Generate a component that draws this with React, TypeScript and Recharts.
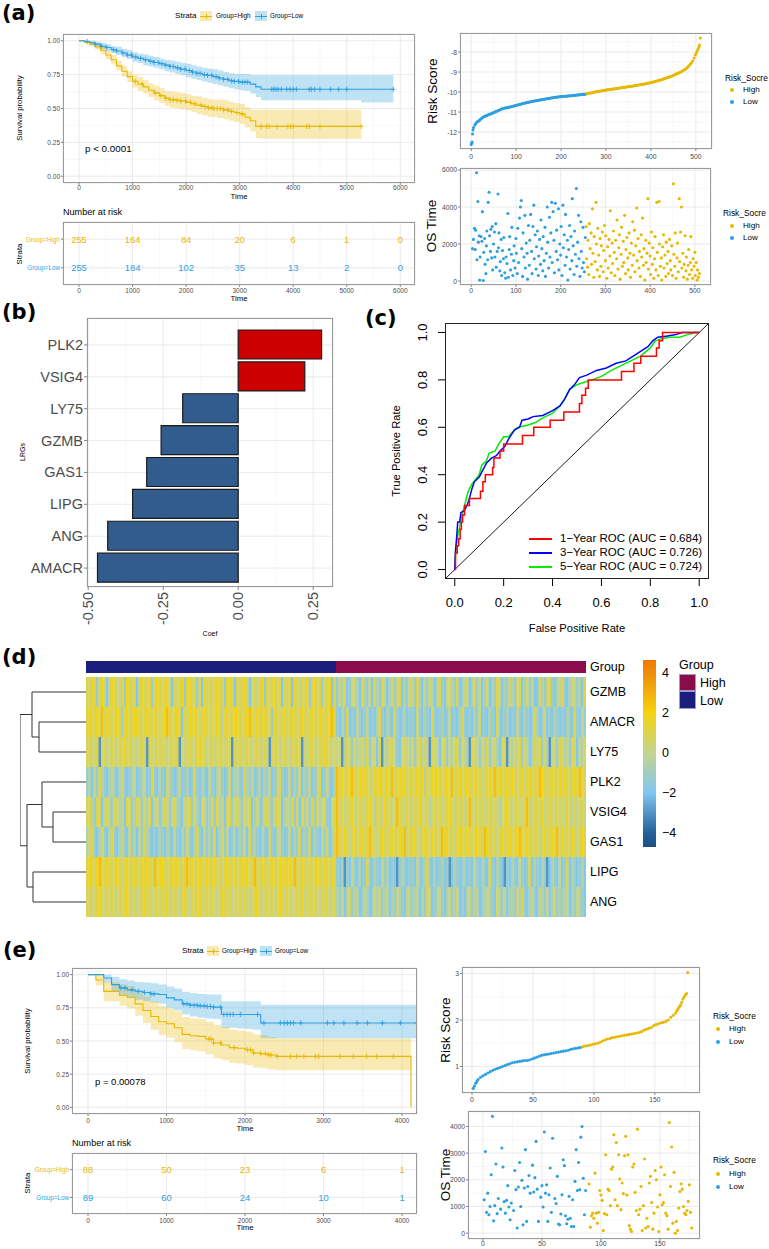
import React from "react"
import {
  ComposedChart, ScatterChart, LineChart, BarChart,
  Line, Area, Scatter, Bar, Cell, XAxis, YAxis, CartesianGrid, ReferenceLine,
} from "recharts"

const FONT = '"Liberation Sans", Arial, Helvetica, sans-serif'
const YEL = "#E7B800"
const BLU = "#2E9FDF"
const GREY = "#4d4d4d"

// ---------- (a) survival, training cohort ----------
const kmTimesA = [0, 100, 200, 300, 400, 500, 600, 700, 800, 900, 1000, 1100, 1200, 1300, 1400, 1500, 1600, 1700, 1800, 1900, 2000, 2100, 2200, 2300, 2400, 2500, 2600, 2700, 2800, 2900, 3000, 3100, 3200, 3300, 3400, 5270, 5870]
const kmHighA = [1, .99, .975, .955, .93, .895, .86, .815, .775, .735, .70, .68, .66, .635, .615, .595, .575, .565, .56, .555, .545, .535, .525, .515, .505, .50, .50, .49, .48, .47, .46, .435, .41, .368, .368, .368, null]
const kmHighLoA = [1, .98, .96, .935, .905, .865, .825, .78, .735, .695, .655, .63, .61, .585, .56, .54, .52, .505, .50, .495, .485, .475, .46, .45, .44, .435, .43, .42, .41, .40, .385, .36, .33, .28, .277, .277, null]
const kmHighHiA = [1, 1, .99, .975, .955, .925, .895, .85, .815, .775, .745, .73, .71, .685, .67, .65, .63, .625, .62, .615, .605, .595, .59, .58, .57, .565, .565, .56, .55, .54, .535, .51, .49, .49, .49, .49, null]
const kmLowA = [1, .995, .985, .975, .96, .95, .935, .925, .91, .895, .88, .87, .86, .85, .84, .83, .82, .81, .80, .79, .78, .77, .76, .75, .745, .735, .725, .715, .705, .70, .695, .695, .68, .66, .642, .642, .642]
const kmLowLoA = [1, .985, .97, .955, .94, .925, .91, .895, .88, .865, .845, .835, .82, .81, .80, .79, .775, .765, .755, .745, .73, .72, .71, .70, .69, .68, .67, .66, .65, .64, .635, .63, .61, .585, .56, .545, .545]
const kmLowHiA = [1, 1, 1, .995, .985, .975, .96, .955, .94, .93, .915, .905, .90, .89, .88, .87, .86, .855, .845, .835, .83, .82, .81, .80, .795, .79, .78, .77, .76, .755, .755, .755, .745, .745, .745, .745, .745]
const censHighA = [1050, 1180, 1420, 1530, 1620, 1700, 1760, 1830, 1900, 1990, 2080, 2160, 2280, 2350, 2420, 2480, 2520, 2580, 2640, 2700, 2780, 2850, 2950, 3050, 3400, 3500, 3550, 3700, 3900, 3950, 4000, 4250, 4300, 4500, 5270]
const censLowA = [150, 300, 420, 520, 640, 700, 820, 900, 980, 1060, 1150, 1240, 1330, 1400, 1480, 1550, 1620, 1700, 1760, 1840, 1900, 1980, 2060, 2120, 2200, 2260, 2340, 2400, 2480, 2560, 2620, 2700, 2780, 2850, 2900, 2980, 3050, 3100, 3150, 3600, 3640, 3680, 3720, 3780, 3880, 3940, 4000, 4060, 4300, 4340, 4400, 4500, 4700, 4850, 5000, 5870]
const timeTicksA = [0, 1000, 2000, 3000, 4000, 5000, 6000]
const atRiskHighA = [255, 164, 84, 20, 6, 1, 0]
const atRiskLowA = [255, 184, 102, 35, 13, 2, 0]

const nLowA = 255
const riskA = [[0, -12.62], [1, -12.55], [2, -12.5], [3, -12.1], [4, -11.9], [5, -11.78], [8, -11.65], [10, -11.58], [13, -11.5], [15, -11.47], [18, -11.42], [20, -11.38], [23, -11.32], [25, -11.28], [28, -11.24], [30, -11.22], [33, -11.19], [35, -11.17], [38, -11.14], [40, -11.12], [43, -11.1], [45, -11.08], [48, -11.05], [50, -11.03], [53, -11.0], [55, -10.98], [58, -10.95], [60, -10.93], [63, -10.9], [65, -10.88], [68, -10.85], [70, -10.83], [73, -10.81], [75, -10.8], [78, -10.79], [80, -10.78], [83, -10.77], [85, -10.76], [88, -10.74], [90, -10.73], [93, -10.71], [95, -10.7], [98, -10.68], [100, -10.67], [103, -10.65], [105, -10.64], [108, -10.62], [110, -10.61], [113, -10.59], [115, -10.58], [118, -10.56], [120, -10.55], [123, -10.53], [125, -10.52], [128, -10.51], [130, -10.5], [133, -10.48], [135, -10.47], [138, -10.46], [140, -10.45], [143, -10.44], [145, -10.43], [148, -10.42], [150, -10.41], [153, -10.4], [155, -10.39], [158, -10.38], [160, -10.37], [163, -10.36], [165, -10.35], [168, -10.34], [170, -10.33], [173, -10.32], [175, -10.31], [178, -10.3], [180, -10.29], [183, -10.28], [185, -10.27], [188, -10.265], [190, -10.26], [193, -10.25], [195, -10.24], [198, -10.235], [200, -10.23], [203, -10.225], [205, -10.22], [208, -10.215], [210, -10.21], [213, -10.205], [215, -10.2], [218, -10.195], [220, -10.19], [223, -10.185], [225, -10.18], [228, -10.175], [230, -10.17], [233, -10.16], [235, -10.15], [238, -10.145], [240, -10.14], [243, -10.135], [245, -10.13], [248, -10.125], [250, -10.12], [253, -10.11], [255, -10.1], [258, -10.08], [260, -10.07], [263, -10.06], [265, -10.05], [268, -10.04], [270, -10.03], [273, -10.01], [275, -10.0], [278, -9.99], [280, -9.98], [283, -9.97], [285, -9.96], [288, -9.95], [290, -9.94], [293, -9.93], [295, -9.92], [298, -9.91], [300, -9.9], [303, -9.89], [305, -9.88], [308, -9.875], [310, -9.87], [313, -9.86], [315, -9.85], [318, -9.845], [320, -9.84], [323, -9.83], [325, -9.82], [328, -9.81], [330, -9.8], [333, -9.79], [335, -9.78], [338, -9.775], [340, -9.77], [343, -9.76], [345, -9.75], [348, -9.74], [350, -9.73], [353, -9.725], [355, -9.72], [358, -9.71], [360, -9.7], [363, -9.69], [365, -9.68], [368, -9.67], [370, -9.66], [373, -9.65], [375, -9.64], [378, -9.63], [380, -9.62], [383, -9.61], [385, -9.6], [388, -9.585], [390, -9.57], [393, -9.56], [395, -9.55], [398, -9.54], [400, -9.53], [403, -9.51], [405, -9.5], [408, -9.48], [410, -9.47], [413, -9.45], [415, -9.44], [418, -9.42], [420, -9.41], [423, -9.39], [425, -9.37], [428, -9.35], [430, -9.33], [433, -9.31], [435, -9.29], [438, -9.27], [440, -9.25], [443, -9.23], [445, -9.21], [448, -9.19], [450, -9.17], [453, -9.14], [455, -9.12], [458, -9.09], [460, -9.07], [463, -9.04], [465, -9.01], [468, -8.98], [470, -8.95], [473, -8.91], [475, -8.88], [478, -8.84], [480, -8.8], [483, -8.73], [485, -8.68], [488, -8.6], [490, -8.55], [493, -8.45], [496, -8.3], [499, -8.15], [501, -8.05], [503, -7.95], [505, -7.85], [507, -7.75], [508, -7.65], [510, -7.3]]
const osA = [[3, 1750], [5, 2250], [7, 2850], [9, 1700], [10, 2750], [12, 5850], [13, 1150], [15, 4300], [16, 2100], [18, 2450], [19, 50], [20, 1300], [22, 2400], [24, 2150], [25, 3750], [27, 30], [28, 1550], [30, 2300], [31, 900], [33, 400], [34, 1900], [35, 2700], [37, 1150], [38, 4250], [40, 4800], [41, 2450], [43, 1600], [44, 2800], [46, 1250], [47, 2950], [48, 600], [50, 2000], [52, 2650], [53, 1300], [55, 3100], [56, 750], [58, 1600], [60, 4700], [61, 1800], [62, 2600], [64, 550], [65, 1050], [67, 2250], [68, 300], [70, 1650], [72, 1200], [73, 2350], [75, 450], [77, 150], [78, 1300], [80, 950], [82, 3650], [83, 200], [85, 1700], [86, 2400], [88, 600], [90, 1450], [91, 2900], [93, 300], [95, 1100], [96, 1900], [98, 700], [100, 2300], [101, 1500], [103, 400], [104, 2850], [106, 1000], [108, 3400], [110, 4000], [112, 4350], [113, 1750], [115, 250], [116, 2600], [118, 1300], [120, 3550], [121, 700], [123, 2050], [125, 1500], [126, 100], [128, 3000], [130, 850], [131, 2200], [133, 3600], [135, 1600], [136, 400], [138, 2950], [140, 4100], [141, 1200], [143, 2500], [145, 650], [146, 1850], [148, 2700], [150, 300], [151, 1350], [153, 2250], [155, 900], [156, 3300], [158, 1750], [160, 550], [161, 2400], [163, 1100], [165, 2900], [166, 250], [168, 1500], [170, 4000], [171, 2100], [173, 700], [175, 3450], [176, 1300], [178, 2600], [180, 4250], [181, 1000], [183, 3750], [185, 2200], [186, 450], [188, 4200], [190, 1600], [191, 2750], [193, 1150], [195, 3900], [196, 600], [198, 2000], [200, 1400], [201, 2950], [203, 300], [205, 4100], [206, 1800], [208, 2500], [210, 850], [211, 3600], [213, 1300], [215, 2200], [216, 50], [218, 1700], [220, 3000], [221, 650], [223, 2400], [225, 1100], [226, 4450], [228, 1900], [230, 350], [231, 2700], [233, 1450], [235, 5000], [236, 800], [238, 2100], [240, 3550], [241, 1200], [243, 250], [245, 3200], [246, 1600], [248, 700], [250, 2900], [251, 1000], [253, 500], [255, 2350],
  [257, 2950], [258, 1200], [260, 750], [261, 2200], [263, 350], [264, 3100], [266, 1750], [268, 2600], [269, 900], [271, 3900], [272, 1500], [274, 200], [275, 2400], [277, 1050], [279, 4250], [280, 2000], [282, 600], [283, 2850], [285, 1400], [287, 250], [288, 2300], [290, 800], [291, 1900], [293, 2650], [295, 500], [296, 1650], [298, 3000], [300, 1100], [301, 2450], [303, 150], [305, 1850], [306, 700], [308, 2250], [310, 1350], [311, 3800], [313, 450], [315, 2050], [316, 950], [318, 2700], [320, 1550], [321, 300], [323, 2200], [325, 1200], [326, 3300], [328, 650], [330, 1800], [331, 2500], [333, 100], [335, 1450], [336, 2900], [338, 800], [340, 2150], [341, 1000], [343, 3550], [345, 400], [346, 1700], [348, 2350], [350, 1250], [351, 600], [353, 2600], [355, 1500], [356, 200], [358, 2050], [360, 850], [361, 3200], [363, 1400], [365, 2750], [366, 500], [368, 1900], [370, 3950], [371, 1100], [373, 2300], [375, 700], [376, 1600], [378, 250], [380, 2500], [381, 1300], [383, 3400], [385, 850], [386, 1750], [388, 50], [390, 2200], [391, 1000], [393, 1500], [395, 4450], [396, 650], [398, 2050], [400, 1350], [401, 350], [403, 2650], [405, 900], [406, 1800], [408, 150], [410, 1200], [411, 2400], [413, 600], [415, 4250], [416, 1550], [418, 300], [420, 4300], [421, 2000], [423, 800], [425, 1250], [426, 50], [428, 1850], [430, 2500], [431, 700], [433, 1400], [435, 250], [436, 2100], [438, 950], [440, 1600], [441, 400], [443, 2250], [445, 1100], [446, 600], [448, 1900], [450, 300], [452, 5250], [453, 1450], [455, 800], [456, 2600], [458, 150], [460, 1250], [461, 2050], [463, 500], [465, 4450], [466, 1050], [468, 2650], [470, 4000], [471, 700], [473, 1500], [475, 200], [476, 900], [478, 2450], [480, 550], [481, 1300], [483, 100], [485, 850], [486, 1700], [488, 350], [490, 1000], [491, 2400], [493, 600], [495, 150], [496, 1200], [498, 800], [500, 1550], [501, 300], [503, 1000], [505, 50], [506, 600], [508, 200], [510, 400]]

// ---------- (b) lasso coefficients ----------
const coefGenes = ["PLK2", "VSIG4", "LY75", "GZMB", "GAS1", "LIPG", "ANG", "AMACR"]
const coefValues = [0.278, 0.222, -0.185, -0.257, -0.305, -0.352, -0.435, -0.469]

// ---------- (c) time-dependent ROC ----------
const roc1 = [[0, 0], [0.003, 0.07], [0.01, 0.1], [0.016, 0.13], [0.022, 0.17], [0.027, 0.2], [0.032, 0.23], [0.04, 0.27], [0.06, 0.3], [0.105, 0.33], [0.115, 0.37], [0.125, 0.4], [0.155, 0.43], [0.16, 0.47], [0.185, 0.5], [0.2, 0.53], [0.277, 0.565], [0.323, 0.6], [0.39, 0.63], [0.446, 0.665], [0.51, 0.7], [0.52, 0.735], [0.535, 0.765], [0.546, 0.8], [0.682, 0.835], [0.733, 0.87], [0.761, 0.9], [0.825, 0.935], [0.836, 0.965], [0.85, 1.0], [1.0, 1.0]]
const roc3 = [[0, 0], [0.003, 0.08], [0.008, 0.14], [0.012, 0.2], [0.02, 0.2], [0.025, 0.24], [0.04, 0.25], [0.05, 0.27], [0.06, 0.3], [0.07, 0.34], [0.08, 0.37], [0.1, 0.39], [0.115, 0.42], [0.13, 0.45], [0.15, 0.47], [0.17, 0.48], [0.185, 0.5], [0.205, 0.52], [0.22, 0.55], [0.245, 0.59], [0.265, 0.6], [0.275, 0.63], [0.3, 0.635], [0.32, 0.645], [0.36, 0.65], [0.4, 0.67], [0.43, 0.69], [0.45, 0.72], [0.47, 0.76], [0.49, 0.78], [0.51, 0.81], [0.54, 0.82], [0.58, 0.84], [0.62, 0.85], [0.66, 0.87], [0.7, 0.88], [0.73, 0.9], [0.76, 0.92], [0.79, 0.94], [0.81, 0.965], [0.83, 0.98], [0.87, 0.985], [0.9, 0.99], [0.93, 1.0], [1, 1]]
const roc5 = [[0, 0], [0.003, 0.07], [0.01, 0.13], [0.02, 0.18], [0.03, 0.23], [0.045, 0.29], [0.055, 0.33], [0.07, 0.36], [0.085, 0.38], [0.1, 0.4], [0.11, 0.44], [0.13, 0.46], [0.14, 0.49], [0.165, 0.5], [0.18, 0.53], [0.2, 0.56], [0.22, 0.56], [0.235, 0.58], [0.26, 0.6], [0.3, 0.61], [0.33, 0.62], [0.36, 0.64], [0.4, 0.66], [0.43, 0.69], [0.45, 0.72], [0.47, 0.76], [0.5, 0.78], [0.53, 0.79], [0.56, 0.8], [0.6, 0.815], [0.64, 0.84], [0.68, 0.86], [0.72, 0.88], [0.76, 0.9], [0.8, 0.935], [0.82, 0.965], [0.85, 0.975], [0.88, 0.98], [0.92, 0.98], [0.95, 0.99], [0.98, 1.0], [1, 1]]
const rocLabels = ["1\u2212Year ROC (AUC = 0.684)", "3\u2212Year ROC (AUC = 0.726)", "5\u2212Year ROC (AUC = 0.724)"]

// ---------- (d) heatmap ----------
const heatGenes = ["GZMB", "AMACR", "LY75", "PLK2", "VSIG4", "GAS1", "LIPG", "ANG"]
const groupLow = 255
const groupHigh = 255
// one letter per column block (B = -3 ... J = 2.6); first 100 Low, last 100 High
const heatRows = [
  "HGIHDHIGCH IHGFHDIHGH CHIGHHDGIH GHIFCHGHID HIGHDHCIGH FHIHGDHIGC HGHIHCGHFH IDHGHIGHCH GHCIHFHGID HIGHDGHICH DFEHCDGFEC HEDFCGEDHF CEGDFHCEDG FDHECFDGEC EHDCFGEDHC DFGCEHDFCE GCEDHFCEDG EDFHCEGDFC CGEDFHDCEF HDCEGFDECH",
  "HIGHIHJGIH GHIHDHIGHI IHGHIHGIHG HIJHGHIHCH GIHIHGHIHG HGIHEHIGHI IHGHIJHGIH HIHGDIHGHI GHIHGHIHGH IHGIHGHIJH DCEDHCDCFD CDFCDCEHDC EDCHDCDECD DCGDCEDCHD CDECDFCDCE HDCDCEDGCD CEDCHDCDEC DCFDCEDCDH ECDGCDCEDC DCEDCHDCFD",
  "GHFGHBGHFG HGFHGIGHFG FGHGBHGFHG HGFGHGHBGF GHGFHIGHFG HFGHGFHGBH GHFGHGFGHG FHGBHGHFGH GFHGHGBGFH HGFHGIHGFG FGBEHFDGEF GEHDFGCHBF EHGFDCGHFE GDFHEGFBHG FCGHDFEGHD GFEBHGFDGE HDFGECHGBF EGFHDGFCEH FHDGEBFGDH GEFDHGCFEG",
  "DECFDHEDCE FDCEGDCDEF CDEFCDHDCE DCGEDCDFCD ECDHDCEDCF DCEFDCDGCE EDCHEDFCDE CEDFCDEHDC DFCEDGCEDF CDEHCDFDCE JHIGHIJHGI HIHGFIHIHG IHJGHIHIGH HGIHIEHGIH IHGHIHJGHI GHIHGIHHFG HIGJHIHGIH IHGHIFHIGH HJIHGHIHGI GIHGHIHJHG",
  "GHEDHGCFHE DHGEFCHGDE HFDGEHCFGD EHGDFHEDCG FHDGECHFDE GDHEFCGHDF HEDGFHCEGD DGHEDFHGCE FEHDGCHEFD HDGEFHDCGH JGHFGHIFGH GFHIGEHGFI HGFGJHGFHG FHGIFGHEGH GHFGHIGFHG HFGJGFHGHF GHFHGEGHIG FGHGFHJGFH HGIFGHGFHG GFHGEHFGHF",
  "EGHDCEGDCF HDCEFDCGDE CFDHEDCDCE DCEDCFDCED GDCEHDCFDE DHCEGDFCDE CEDFCHDEDC EDCGDCEFDC DFCEDHCEDG CEDCFDGCEH JHGIHFHIGH IGHJHGFHIH GHIHGIHJGH HIGFHIHGIH GHJHIGHFHI HGIHGHIHGJ IHGHFHIGHI GHIJHGIHGH HFHIGHIHJG IGHGIHFHIH",
  "HIHGIJHGIH GHIHFHIGHI HGIHIHGJHI IHGHIHIGHH JHIGHIHGIH HIGHFHIHGI GHIHIGHJHG IHGHIHGIHI HIGJHGIHGH GHIHGIHGIH DCEBDCFDCE CDHDCEDCFD ECDCBDEDCD DCFDCEHDCE CDECDBCEDC DECDCFDCED CHDCEDCBDC EDCFDCDHCE DCEDBCEDCF CDHCEDCDEC",
  "GHFGHIGFHG HGFHGHIGFH FGHIGHFGHG HGIFGHGFHI GFHGHIFGHG HGFGIHGHFG GHFHGFGHIG FGHGHFGIHF HGFGHGIFGH GHGFHGHFGH EDFCEGDEFC DFECDGEFDE FCEDFEDCFE DEFCEDGFCD EFDCEFDEGC DCEFDEFCDE FEDCGEDFCE EDFEHDCEFD CFEDFCEGDE DEFCEDFEDC",
]
const LEVEL: Record<string, number> = { A: -4, B: -3, C: -1.9, D: -1.2, E: -0.5, F: 0.1, G: 0.6, H: 1.1, I: 1.8, J: 2.6, K: 4 }
// hclust merges (negative = gene row, positive = earlier merge)
const mergeA = [-2, -1, -5, -4, -7, 4, 2]
const mergeB = [-3, 1, -6, 3, -8, 5, 6]
const mergeH = [47, 54, 33, 44, 53, 59, 66]
const legendTicks = [4, 2, 0, -2, -4]

// ---------- (e) survival, validation cohort ----------
const kmTimesE = [0, 100, 200, 300, 400, 500, 600, 700, 800, 900, 1000, 1100, 1200, 1300, 1400, 1500, 1600, 1700, 1800, 1900, 2000, 2100, 2200, 2300, 2400, 4115, 4190]
const kmHighE = [1, .96, .874, .874, .845, .83, .78, .73, .685, .645, .63, .60, .55, .54, .535, .515, .485, .47, .45, .445, .435, .41, .405, .395, .384, 0, null]
const kmHighLoE = [1, .92, .80, .80, .765, .745, .69, .635, .585, .545, .525, .49, .44, .43, .42, .40, .37, .355, .335, .33, .32, .30, .295, .285, .28, .28, null]
const kmHighHiE = [1, 1, .945, .945, .925, .915, .875, .835, .80, .765, .75, .725, .68, .67, .665, .645, .62, .605, .585, .58, .57, .55, .545, .53, .518, .518, null]
const kmLowE = [1, 1, .975, .925, .90, .885, .875, .865, .855, .85, .825, .81, .78, .77, .765, .76, .755, .70, .70, .70, .70, .70, .636, .636, .636, .636, .636]
const kmLowLoE = [1, 1, .94, .875, .845, .825, .81, .80, .79, .78, .75, .73, .70, .685, .675, .67, .665, .60, .60, .595, .59, .585, .52, .52, .52, .52, .52]
const kmLowHiE = [1, 1, 1, .985, .965, .955, .945, .94, .935, .925, .91, .895, .87, .86, .855, .85, .85, .80, .80, .80, .80, .80, .774, .774, .774, .774, .774]
const censHighE = [1540, 1570, 1600, 1690, 1860, 2030, 2070, 2110, 2200, 2260, 2300, 2330, 2410, 2580, 2660, 2750, 2900, 2940, 3210, 3380, 3550, 3680, 3890]
const censLowE = [420, 470, 560, 640, 720, 800, 840, 1220, 1260, 1300, 1350, 1390, 1430, 1480, 1520, 1560, 1600, 1690, 1730, 1770, 1810, 1850, 1940, 2160, 2240, 2450, 2500, 2540, 2580, 2620, 2710, 3050, 3130, 3260, 3430, 3560, 3750, 3980, 4190]
const timeTicksE = [0, 1000, 2000, 3000, 4000]
const atRiskHighE = [88, 50, 23, 6, 1]
const atRiskLowE = [89, 60, 24, 10, 1]

const nLowE = 89
const riskE = [[1, 0.53], [2, 0.58], [3, 0.64], [4, 0.68], [5, 0.72], [7, 0.77], [9, 0.8], [11, 0.83], [13, 0.86], [15, 0.89], [17, 0.92], [19, 0.94], [21, 0.96], [23, 0.98], [25, 1.0], [27, 1.02], [29, 1.04], [31, 1.06], [33, 1.08], [35, 1.09], [37, 1.1], [39, 1.11], [41, 1.12], [43, 1.13], [45, 1.13], [47, 1.14], [49, 1.16], [51, 1.18], [53, 1.2], [55, 1.22], [57, 1.24], [59, 1.25], [61, 1.26], [63, 1.27], [65, 1.28], [67, 1.29], [69, 1.3], [71, 1.31], [73, 1.32], [75, 1.33], [77, 1.34], [79, 1.35], [81, 1.37], [83, 1.38], [85, 1.39], [87, 1.4], [89, 1.41],
  [91, 1.43], [93, 1.44], [95, 1.45], [97, 1.46], [99, 1.48], [101, 1.49], [103, 1.5], [105, 1.52], [107, 1.55], [109, 1.57], [111, 1.59], [113, 1.6], [115, 1.62], [117, 1.63], [119, 1.64], [121, 1.65], [123, 1.66], [125, 1.67], [127, 1.68], [129, 1.69], [131, 1.7], [133, 1.71], [135, 1.72], [137, 1.73], [139, 1.75], [141, 1.78], [143, 1.8], [145, 1.82], [147, 1.84], [149, 1.88], [151, 1.9], [153, 1.92], [155, 1.94], [157, 1.95], [159, 1.97], [161, 2.0], [163, 2.06], [165, 2.1], [167, 2.15], [168, 2.2], [169, 2.24], [170, 2.28], [171, 2.32], [172, 2.38], [173, 2.45], [174, 2.5], [175, 2.54], [176, 2.57], [177, 3.02]]
const osE = [[1, 1250], [2, 3060], [3, 780], [4, 1500], [5, 690], [6, 1000], [7, 2190], [8, 4380], [9, 460], [10, 1030], [11, 2590], [12, 730], [13, 1300], [15, 900], [16, 3190], [17, 2480], [18, 1180], [19, 750], [20, 1230], [21, 1780], [22, 980], [23, 500], [24, 1130], [26, 850], [27, 2350], [28, 1630], [29, 190], [30, 1730], [31, 2650], [32, 1000], [33, 1980], [34, 310], [35, 1690], [36, 3130], [37, 440], [38, 1750], [39, 2160], [40, 1500], [42, 2550], [43, 1540], [44, 2080], [45, 3440], [46, 1650], [47, 440], [49, 1350], [50, 1780], [51, 980], [52, 3790], [53, 1500], [54, 1810], [55, 440], [56, 1440], [57, 2440], [58, 780], [59, 3560], [61, 1300], [62, 1110], [63, 2130], [64, 340], [65, 310], [66, 720], [67, 1440], [68, 2750], [69, 2530], [70, 650], [71, 350], [72, 520], [73, 1380], [74, 560], [75, 250], [76, 1250], [77, 250], [78, 1940], [79, 3130], [80, 1600], [81, 2650], [82, 1630], [83, 3600], [84, 4000], [85, 2060], [86, 690], [87, 1600],
  [90, 1840], [91, 225], [92, 650], [93, 750], [94, 560], [95, 2250], [96, 750], [97, 375], [98, 780], [99, 1600], [100, 1430], [101, 1230], [102, 100], [103, 730], [104, 2940], [105, 690], [106, 1650], [107, 1600], [108, 1030], [109, 2400], [110, 2480], [111, 3690], [112, 1250], [113, 3400], [114, 1030], [115, 2940], [116, 2030], [117, 880], [118, 1880], [119, 1480], [120, 2900], [121, 3630], [122, 1430], [123, 2940], [124, 280], [125, 150], [126, 60], [127, 2480], [128, 2590], [129, 1530], [130, 850], [131, 3900], [132, 690], [133, 900], [134, 1750], [135, 100], [136, 1030], [137, 2780], [138, 190], [139, 560], [140, 250], [141, 1880], [142, 2130], [143, 1150], [144, 150], [145, 750], [146, 2350], [147, 2000], [148, 980], [149, 60], [150, 1440], [151, 2480], [152, 1060], [153, 1150], [154, 2190], [155, 750], [156, 650], [157, 150], [158, 4150], [159, 1750], [160, 3230], [161, 375], [162, 2280], [163, 0], [164, 440], [165, 100], [166, 940], [167, 1560], [168, 1850], [169, 1650], [170, 1000], [171, 750], [172, 690], [173, 850], [174, 1190], [175, 1810], [176, 780], [177, 190]]

// ---------- helpers ----------
type Box = { x0: number; y0: number; x1: number; y1: number }

const place = (b: Box, yw: number, xh: number, mt = 6, mr = 8) => ({
  style: { position: "absolute" as const, left: b.x0 - yw, top: b.y0 - mt },
  width: b.x1 - b.x0 + yw + mr,
  height: b.y1 - b.y0 + mt + xh,
  margin: { top: mt, right: mr, left: 0, bottom: 0 },
})

const stepAt = (ts: number[], vs: (number | null)[], t: number) => {
  let v = vs[0]
  ts.forEach((tt, i) => { if (tt <= t && vs[i] != null) v = vs[i] })
  return v
}

type TickOpt = { fs: number; c?: string | ((v: any) => string); dx?: number; dy?: number; anchor?: "start" | "middle" | "end"; rot?: number; fmt?: (v: any) => string }
const tk = (o: TickOpt) => (p: any) => {
  const x = p.x + (o.dx ?? 0)
  const y = p.y + (o.dy ?? 0)
  const v = p.payload.value
  const fill = typeof o.c === "function" ? o.c(v) : o.c ?? GREY
  return (
    <text x={x} y={y} fontSize={o.fs} fill={fill} fontFamily={FONT} textAnchor={o.anchor ?? "middle"}
      dominantBaseline="central" transform={o.rot ? `rotate(${o.rot} ${x} ${y})` : undefined}>
      {o.fmt ? o.fmt(v) : String(v)}
    </text>
  )
}

const T = ({ x, y, s, c = "#000", a = "l", w = 400, r = false, ff = FONT, children }: any) => {
  const tx = r ? "-50%" : a === "l" ? "0%" : a === "c" ? "-50%" : "-100%"
  return (
    <div style={{ position: "absolute", left: x, top: y, fontSize: s, color: c, fontWeight: w, fontFamily: ff, lineHeight: 1, whiteSpace: "nowrap", transform: `translate(${tx}, -50%)${r ? " rotate(-90deg)" : ""}` }}>
      {children}
    </div>
  )
}

const Frame = ({ b, c = "#9a9a9a" }: { b: Box; c?: string }) => (
  <div style={{ position: "absolute", left: b.x0, top: b.y0, width: b.x1 - b.x0, height: b.y1 - b.y0, border: `1px solid ${c}`, boxSizing: "border-box", pointerEvents: "none" }} />
)

const PanelLabel = ({ x, y, children }: any) => (
  <T x={x} y={y} s={21} w={700} ff='"DejaVu Sans", sans-serif'>{children}</T>
)

const plus = (c: string) => (p: any) => (
  <path d={`M${p.cx - 2.2},${p.cy}H${p.cx + 2.2}M${p.cx},${p.cy - 2.6}V${p.cy + 2.6}`} stroke={c} strokeWidth={0.9} fill="none" />
)
const dot = (c: string) => (p: any) => <circle cx={p.cx} cy={p.cy} r={1.55} fill={c} />

const axisCommon = { axisLine: false, tickSize: 2, tickMargin: 0, interval: 0 as const, allowDataOverflow: true, tickLine: { stroke: "#333", strokeWidth: 0.6 } }

// ---------- survival curves ----------
function KMPlot({ b, ts, hi, hiLo, hiHi, lo, loLo, loHi, cHi, cLo, xd, xt, xm, dy }: any) {
  const rows = ts.map((t: number, i: number) => ({
    t, hi: hi[i], lo: lo[i],
    hiBand: hiLo[i] == null ? null : [hiLo[i], hiHi[i]],
    loBand: loLo[i] == null ? null : [loLo[i], loHi[i]],
  }))
  const ch = cHi.map((t: number) => ({ t, s: stepAt(ts, hi, t) }))
  const cl = cLo.map((t: number) => ({ t, s: stepAt(ts, lo, t) }))
  const g = place(b, 30, 14)
  return (
    <div style={g.style}>
      <ComposedChart width={g.width} height={g.height} margin={g.margin} data={rows}>
        <CartesianGrid stroke="#f3f3f3" strokeWidth={0.6} verticalValues={xm} horizontalValues={[0.125, 0.375, 0.625, 0.875]} />
        <CartesianGrid stroke="#e6e6e6" strokeWidth={0.8} />
        <XAxis type="number" dataKey="t" domain={xd} ticks={xt} height={14} {...axisCommon} tick={tk({ fs: 6.5, dy })} />
        <YAxis type="number" domain={[-0.05, 1.05]} ticks={[0, 0.25, 0.5, 0.75, 1]} width={30} {...axisCommon}
          tick={tk({ fs: 6.5, anchor: "end", dx: -1, fmt: (v) => v.toFixed(2) })} />
        <Area type="stepAfter" dataKey="hiBand" stroke="none" fill={YEL} fillOpacity={0.3} isAnimationActive={false} />
        <Area type="stepAfter" dataKey="loBand" stroke="none" fill={BLU} fillOpacity={0.3} isAnimationActive={false} />
        <Line type="stepAfter" dataKey="hi" stroke={YEL} strokeWidth={1.1} dot={false} isAnimationActive={false} />
        <Line type="stepAfter" dataKey="lo" stroke={BLU} strokeWidth={1.1} dot={false} isAnimationActive={false} />
        <Scatter data={ch} dataKey="s" shape={plus(YEL)} isAnimationActive={false} />
        <Scatter data={cl} dataKey="s" shape={plus(BLU)} isAnimationActive={false} />
      </ComposedChart>
    </div>
  )
}

function AtRisk({ b, xd, xt, xm, hi, lo, dy }: any) {
  const pts = [
    ...xt.map((t: number, i: number) => ({ t, row: 1, n: hi[i], c: YEL })),
    ...xt.map((t: number, i: number) => ({ t, row: 2, n: lo[i], c: BLU })),
  ]
  const g = place(b, 42, 14)
  return (
    <div style={g.style}>
      <ScatterChart width={g.width} height={g.height} margin={g.margin}>
        <CartesianGrid stroke="#f3f3f3" strokeWidth={0.6} verticalValues={xm} horizontal={false} />
        <CartesianGrid stroke="#e6e6e6" strokeWidth={0.8} />
        <XAxis type="number" dataKey="t" domain={xd} ticks={xt} height={14} {...axisCommon} tick={tk({ fs: 6.5, dy })} />
        <YAxis type="number" dataKey="row" domain={[0.4, 2.6]} reversed ticks={[1, 2]} width={42} {...axisCommon}
          tick={tk({ fs: 6.3, anchor: "end", dx: -1, c: (v) => (v === 1 ? YEL : BLU), fmt: (v) => (v === 1 ? "Group=High" : "Group=Low") })} />
        <Scatter data={pts} dataKey="row" isAnimationActive={false}
          shape={(p: any) => (
            <text x={p.cx} y={p.cy} textAnchor="middle" dominantBaseline="central" fontSize={9.4} fill={p.payload.c} fontFamily={FONT}>{p.payload.n}</text>
          )} />
      </ScatterChart>
    </div>
  )
}

function DotPlot({ b, pts, nLow, xd, xt, xm, yd, yt, ym, yw, dy }: any) {
  const low = pts.filter((p: number[]) => p[0] <= nLow).map((p: number[]) => ({ i: p[0], v: p[1] }))
  const high = pts.filter((p: number[]) => p[0] > nLow).map((p: number[]) => ({ i: p[0], v: p[1] }))
  const g = place(b, yw, 14)
  return (
    <div style={g.style}>
      <ScatterChart width={g.width} height={g.height} margin={g.margin}>
        <CartesianGrid stroke="#f3f3f3" strokeWidth={0.6} verticalValues={xm} horizontalValues={ym} />
        <CartesianGrid stroke="#e6e6e6" strokeWidth={0.8} />
        <XAxis type="number" dataKey="i" domain={xd} ticks={xt} height={14} {...axisCommon} tick={tk({ fs: 6.8, dy })} />
        <YAxis type="number" dataKey="v" domain={yd} ticks={yt} width={yw} {...axisCommon} tick={tk({ fs: 6.8, anchor: "end", dx: -1 })} />
        <Scatter data={low} shape={dot(BLU)} isAnimationActive={false} />
        <Scatter data={high} shape={dot(YEL)} isAnimationActive={false} />
      </ScatterChart>
    </div>
  )
}

const StrataLegend = ({ x, y, k1, t1, k2, t2 }: any) => {
  const key = (kx: number, c: string) => (
    <div style={{ position: "absolute", left: kx, top: y - 5, width: 12, height: 10, background: c + "4d" }}>
      <div style={{ position: "absolute", left: 0, right: 0, top: 4.5, height: 1, background: c }} />
      <div style={{ position: "absolute", left: 5.5, top: 2.5, width: 1, height: 5, background: c }} />
    </div>
  )
  return (
    <>
      <T x={x} y={y} s={8.1}>Strata</T>
      {key(k1, YEL)}
      <T x={t1} y={y} s={6.4}>Group=High</T>
      {key(k2, BLU)}
      <T x={t2} y={y} s={6.4}>Group=Low</T>
    </>
  )
}

const RiskLegend = ({ x, y, dx, tx, gap }: any) => (
  <>
    <T x={x} y={y} s={8.4}>Risk_Socre</T>
    <div style={{ position: "absolute", left: dx - 2, top: y + gap - 2, width: 4, height: 4, borderRadius: 2, background: YEL }} />
    <T x={tx} y={y + gap} s={8.1}>High</T>
    <div style={{ position: "absolute", left: dx - 2, top: y + 2 * gap - 2, width: 4, height: 4, borderRadius: 2, background: BLU }} />
    <T x={tx} y={y + 2 * gap} s={8.1}>Low</T>
  </>
)

// ---------- heatmap colours ----------
const cbStops: [number, string][] = [[4.65, "#ec7a00"], [4, "#f08c08"], [2, "#f5d40f"], [0, "#c4d48f"], [-2, "#80c7f2"], [-4, "#24609a"], [-4.7, "#1b4f86"]]
const hex = (h: string) => [1, 3, 5].map((i) => parseInt(h.slice(i, i + 2), 16))
const colorOf = (v: number) => {
  for (let i = 0; i < cbStops.length - 1; i++) {
    const [va, ca] = cbStops[i]
    const [vb, cb] = cbStops[i + 1]
    if (v <= va && v >= vb) {
      const f = (va - v) / (va - vb)
      const a = hex(ca), bb = hex(cb)
      return `rgb(${a.map((x, k) => Math.round(x + (bb[k] - x) * f)).join(",")})`
    }
  }
  return v > 0 ? cbStops[0][1] : cbStops[cbStops.length - 1][1]
}

function Heatmap() {
  const rows = heatRows.map((s) => s.replace(/ /g, ""))
  const nc = rows[0].length
  const cells = rows.flatMap((s, r) => s.split("").map((ch, c) => ({ c, r, v: LEVEL[ch] })))
  const cw = 500 / nc
  // dendrogram segments
  const pos: number[] = []
  const hts: number[] = []
  const posOf = (k: number) => (k < 0 ? -k - 1 : pos[k - 1])
  const htOf = (k: number) => (k < 0 ? 0 : hts[k - 1])
  const segs = mergeA.map((a, j) => {
    const bb = mergeB[j]
    const pa = posOf(a), pb = posOf(bb), h = mergeH[j]
    const seg = [{ h: htOf(a), p: pa }, { h, p: pa }, { h, p: pb }, { h: htOf(bb), p: pb }]
    pos[j] = (pa + pb) / 2
    hts[j] = h
    return seg
  })
  const grad = `linear-gradient(to bottom, ${cbStops.map(([v, c]) => `${c} ${((4.65 - v) / 9.35) * 100}%`).join(", ")})`
  return (
    <>
      <div style={{ position: "absolute", left: 86, top: 655 }}>
        <BarChart width={570} height={24} layout="vertical" data={[{ g: "Group", low: groupLow, high: groupHigh }]} margin={{ top: 6, bottom: 6, left: 0, right: 0 }} barCategoryGap={0}>
          <XAxis type="number" domain={[0, groupLow + groupHigh]} hide allowDataOverflow />
          <YAxis type="category" dataKey="g" orientation="right" width={70} axisLine={false} tickLine={false} tickSize={0} tickMargin={0}
            tick={tk({ fs: 12.5, c: "#000", anchor: "start", dx: 4 })} />
          <Bar dataKey="low" stackId="g" fill="#1b1e7a" isAnimationActive={false} />
          <Bar dataKey="high" stackId="g" fill="#8a0c4a" isAnimationActive={false} />
        </BarChart>
      </div>
      <div style={{ position: "absolute", left: 86, top: 677 }}>
        <ScatterChart width={570} height={240} margin={{ top: 0, bottom: 0, left: 0, right: 0 }}>
          <XAxis type="number" dataKey="c" domain={[-0.5, nc - 0.5]} hide allowDataOverflow />
          <YAxis type="number" dataKey="r" domain={[-0.5, 7.5]} reversed orientation="right" width={70} ticks={[0, 1, 2, 3, 4, 5, 6, 7]} interval={0}
            axisLine={false} tickLine={false} tickSize={0} tickMargin={0} allowDataOverflow
            tick={tk({ fs: 12.5, c: "#000", anchor: "start", dx: 4, fmt: (v) => heatGenes[v] })} />
          <Scatter data={cells} isAnimationActive={false}
            shape={(p: any) => <rect x={p.cx - cw / 2} y={p.cy - 15} width={cw + 0.3} height={30} fill={colorOf(p.payload.v)} />} />
        </ScatterChart>
      </div>
      <div style={{ position: "absolute", left: 14, top: 677 }}>
        <ScatterChart width={72} height={240} margin={{ top: 0, bottom: 0, left: 6, right: 0 }}>
          <XAxis type="number" dataKey="h" domain={[0, 66]} reversed hide allowDataOverflow />
          <YAxis type="number" dataKey="p" domain={[-0.5, 7.5]} reversed hide allowDataOverflow />
          {segs.map((s, i) => (
            <Scatter key={i} data={s} line={{ stroke: "#333", strokeWidth: 1 }} lineType="joint" shape={() => <g />} isAnimationActive={false} />
          ))}
        </ScatterChart>
      </div>
      <div style={{ position: "absolute", left: 643, top: 660, width: 13, height: 187, background: grad }} />
      {legendTicks.map((v) => (
        <T key={v} x={662} y={660 + (4.65 - v) * 20} s={12.5}>{v < 0 ? `\u2212${-v}` : String(v)}</T>
      ))}
      <T x={679} y={665} s={12.5}>Group</T>
      <div style={{ position: "absolute", left: 679, top: 674, width: 17, height: 17, background: "#8a0c4a", boxSizing: "border-box", border: "1px solid #9a9acd" }} />
      <div style={{ position: "absolute", left: 679, top: 691, width: 17, height: 18, background: "#1b1e7a", boxSizing: "border-box", border: "1px solid #9a9acd" }} />
      <T x={700} y={683} s={12.5}>High</T>
      <T x={700} y={701} s={12.5}>Low</T>
    </>
  )
}

// ---------- ROC ----------
function Roc() {
  const b: Box = { x0: 445, y0: 323, x1: 709, y1: 579 }
  const g = place(b, 60, 40, 6, 10)
  const toPts = (a: number[][]) => a.map(([x, y]) => ({ x, y }))
  const ax = { axisLine: false, tickSize: 7, tickMargin: 0, interval: 0 as const, allowDataOverflow: true, tickLine: { stroke: "#000" } }
  const colors = ["#FF0000", "#0000FF", "#00EE00"]
  return (
    <>
      <div style={g.style}>
        <LineChart width={g.width} height={g.height} margin={g.margin}>
          <XAxis type="number" dataKey="x" domain={[-0.04, 1.04]} ticks={[0, 0.2, 0.4, 0.6, 0.8, 1]} height={40} {...ax}
            tick={tk({ fs: 13, c: "#000", dy: 16, fmt: (v) => v.toFixed(1) })} />
          <YAxis type="number" dataKey="y" domain={[-0.04, 1.04]} ticks={[0, 0.2, 0.4, 0.6, 0.8, 1]} width={60} {...ax}
            tick={tk({ fs: 13, c: "#000", dx: -15, rot: -90, fmt: (v) => v.toFixed(1) })} />
          <ReferenceLine segment={[{ x: -0.04, y: -0.04 }, { x: 1.04, y: 1.04 }]} stroke="#000" strokeWidth={0.9} />
          <Line data={toPts(roc5)} dataKey="y" type="linear" stroke={colors[2]} strokeWidth={1.5} dot={false} isAnimationActive={false} />
          <Line data={toPts(roc3)} dataKey="y" type="linear" stroke={colors[1]} strokeWidth={1.5} dot={false} isAnimationActive={false} />
          <Line data={toPts(roc1)} dataKey="y" type="stepAfter" stroke={colors[0]} strokeWidth={1.5} dot={false} isAnimationActive={false} />
        </LineChart>
      </div>
      <Frame b={b} c="#222" />
      {rocLabels.map((l, i) => (
        <React.Fragment key={l}>
          <div style={{ position: "absolute", left: 529, top: 538 + i * 14, width: 23, height: 1.5, background: colors[i] }} />
          <T x={560} y={538.7 + i * 14} s={11.5}>{l}</T>
        </React.Fragment>
      ))}
      <T x={397} y={451} s={11.2} r>True Positive Rate</T>
      <T x={577} y={629} s={11.2} a="c">False Positive Rate</T>
    </>
  )
}

// ---------- coefficient bars ----------
function Coef() {
  const b: Box = { x0: 87, y0: 318, x1: 333, y1: 587 }
  const g = place(b, 87, 42)
  const data = coefGenes.map((gene, i) => ({ gene, coef: coefValues[i] }))
  return (
    <>
      <div style={g.style}>
        <BarChart width={g.width} height={g.height} margin={g.margin} layout="vertical" data={data}>
          <CartesianGrid stroke="#f3f3f3" strokeWidth={0.6} verticalValues={[-0.375, -0.125, 0.125]} horizontal={false} />
          <CartesianGrid stroke="#e6e6e6" strokeWidth={0.8} />
          <XAxis type="number" domain={[-0.504, 0.316]} ticks={[-0.5, -0.25, 0, 0.25]} height={42} {...axisCommon} tickSize={3}
            tick={tk({ fs: 14.5, anchor: "end", rot: -90, dy: 2, fmt: (v) => v.toFixed(2) })} />
          <YAxis type="category" dataKey="gene" width={87} axisLine={false} tickSize={3} tickMargin={0} interval={0}
            tickLine={{ stroke: "#333", strokeWidth: 0.6 }} padding={{ top: 11, bottom: 3 }}
            tick={tk({ fs: 14.5, anchor: "end", dx: -1 })} />
          <Bar dataKey="coef" barSize={29} stroke="#1a1a1a" strokeWidth={1.2} isAnimationActive={false}>
            {data.map((d) => <Cell key={d.gene} fill={d.coef > 0 ? "#CC0000" : "#335C8E"} />)}
          </Bar>
        </BarChart>
      </div>
      <Frame b={b} c="#999" />
      <T x={22} y={452} s={7} r>LRGs</T>
      <T x={210} y={633} s={7} a="c">Coef</T>
    </>
  )
}

export default function App() {
  const kmA: Box = { x0: 63, y0: 34, x1: 415, y1: 183 }
  const tabA: Box = { x0: 63, y0: 222, x1: 415, y1: 285 }
  const rsA: Box = { x0: 460, y0: 33, x1: 712, y1: 149 }
  const osAB: Box = { x0: 460, y0: 168, x1: 711, y1: 285 }
  const kmE: Box = { x0: 72, y0: 968, x1: 417, y1: 1114 }
  const tabE: Box = { x0: 72, y0: 1153, x1: 417, y1: 1214 }
  const rsE: Box = { x0: 462, y0: 967, x1: 700, y1: 1093 }
  const osEB: Box = { x0: 468, y0: 1111, x1: 700, y1: 1239 }
  const xdA = [-299, 6275]
  const xmA = [500, 1500, 2500, 3500, 4500, 5500]
  const xdE = [-204, 4191]
  const xmE = [500, 1500, 2500, 3500]
  return (
    <div style={{ position: "relative", width: 769, height: 1249, overflow: "hidden", background: "#fff", fontFamily: FONT }}>
      <style>{"body{margin:0}"}</style>

      {/* (a) */}
      <PanelLabel x={2} y={13}>(a)</PanelLabel>
      <StrataLegend x={175} y={16} k1={200} t1={216} k2={255} t2={270} />
      <KMPlot b={kmA} ts={kmTimesA} hi={kmHighA} hiLo={kmHighLoA} hiHi={kmHighHiA} lo={kmLowA} loLo={kmLowLoA} loHi={kmLowHiA}
        cHi={censHighA} cLo={censLowA} xd={xdA} xt={timeTicksA} xm={xmA} dy={2.5} />
      <Frame b={kmA} />
      <T x={20} y={108} s={7.8} r>Survival probability</T>
      <T x={239} y={197} s={7.8} a="c">Time</T>
      <T x={85} y={149} s={9.8}>p &lt; 0.0001</T>
      <T x={63} y={213} s={9.1}>Number at risk</T>
      <AtRisk b={tabA} xd={xdA} xt={timeTicksA} xm={xmA} hi={atRiskHighA} lo={atRiskLowA} dy={3} />
      <Frame b={tabA} />
      <T x={20} y={254} s={7.8} r>Strata</T>
      <T x={239} y={299} s={7.8} a="c">Time</T>

      <DotPlot b={rsA} pts={riskA} nLow={nLowA} xd={[-25, 536]} xt={[0, 100, 200, 300, 400, 500]} xm={[50, 150, 250, 350, 450]}
        yd={[-12.85, -7.05]} yt={[-12, -11, -10, -9, -8]} ym={[-12.5, -11.5, -10.5, -9.5, -8.5, -7.5]} yw={24} dy={5} />
      <Frame b={rsA} />
      <T x={433} y={91} s={13.5} r>Risk Score</T>
      <RiskLegend x={725} y={78} dx={732} tx={743} gap={12} />
      <DotPlot b={osAB} pts={osA} nLow={nLowA} xd={[-25, 536]} xt={[0, 100, 200, 300, 400, 500]} xm={[50, 150, 250, 350, 450]}
        yd={[-216, 6108]} yt={[0, 2000, 4000, 6000]} ym={[1000, 3000, 5000]} yw={24} dy={3} />
      <Frame b={osAB} />
      <T x={432} y={226} s={13.5} r>OS Time</T>
      <RiskLegend x={723} y={213} dx={732} tx={743} gap={12.5} />

      {/* (b) */}
      <PanelLabel x={2} y={312}>(b)</PanelLabel>
      <Coef />

      {/* (c) */}
      <PanelLabel x={365} y={318}>(c)</PanelLabel>
      <Roc />

      {/* (d) */}
      <PanelLabel x={2} y={657}>(d)</PanelLabel>
      <Heatmap />

      {/* (e) */}
      <PanelLabel x={3} y={950}>(e)</PanelLabel>
      <StrataLegend x={182} y={951} k1={207} t1={222} k2={260} t2={275} />
      <KMPlot b={kmE} ts={kmTimesE} hi={kmHighE} hiLo={kmHighLoE} hiHi={kmHighHiE} lo={kmLowE} loLo={kmLowLoE} loHi={kmLowHiE}
        cHi={censHighE} cLo={censLowE} xd={xdE} xt={timeTicksE} xm={xmE} dy={4} />
      <Frame b={kmE} />
      <T x={28} y={1041} s={7.8} r>Survival probability</T>
      <T x={245} y={1129} s={7.8} a="c">Time</T>
      <T x={95} y={1082} s={9.5}>p = 0.00078</T>
      <T x={72} y={1144} s={9.1}>Number at risk</T>
      <AtRisk b={tabE} xd={xdE} xt={timeTicksE} xm={xmE} hi={atRiskHighE} lo={atRiskLowE} dy={4} />
      <Frame b={tabE} />
      <T x={28} y={1183} s={7.8} r>Strata</T>
      <T x={245} y={1228} s={7.8} a="c">Time</T>

      <DotPlot b={rsE} pts={riskE} nLow={nLowE} xd={[-8.2, 187]} xt={[0, 50, 100, 150]} xm={[25, 75, 125, 175]}
        yd={[0.43, 3.14]} yt={[1, 2, 3]} ym={[0.5, 1.5, 2.5]} yw={12} dy={4} />
      <Frame b={rsE} />
      <T x={446} y={1030} s={13.5} r>Risk Score</T>
      <RiskLegend x={713} y={1016} dx={718} tx={729} gap={13} />
      <DotPlot b={osEB} pts={osE} nLow={nLowE} xd={[-12.7, 184]} xt={[0, 50, 100, 150]} xm={[25, 75, 125, 175]}
        yd={[-220, 4580]} yt={[0, 1000, 2000, 3000, 4000]} ym={[500, 1500, 2500, 3500, 4500]} yw={24} dy={2} />
      <Frame b={osEB} />
      <T x={446} y={1175} s={13.5} r>OS Time</T>
      <RiskLegend x={713} y={1160} dx={718} tx={729} gap={13.5} />
    </div>
  )
}
